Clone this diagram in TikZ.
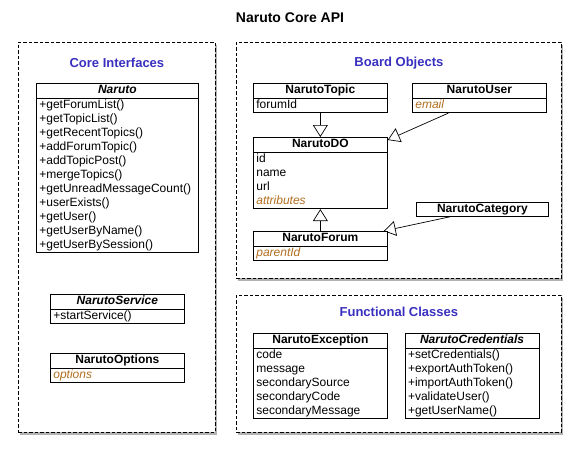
\documentclass[tikz,border=0pt]{standalone}
\usepackage{fontspec}
\setmainfont{Liberation Sans}
\usetikzlibrary{positioning,shapes.multipart,arrows.meta,shadows}
\definecolor{headblue}{RGB}{58,48,192}
\definecolor{attrbrown}{RGB}{178,110,30}
\newcommand{\attr}[1]{{\color{attrbrown}\itshape #1}}
\newcommand{\umlhead}[1]{\noindent\makebox[\hsize]{\strut\bfseries #1}}

\begin{document}
\begin{tikzpicture}[x=1pt, y=-1pt,
    panel/.style={draw, dash pattern=on 3.5pt off 2pt, line width=0.8pt, fill=white,
      inner sep=0pt, anchor=north west,
      drop shadow={opacity=0.6, fill=gray, shadow xshift=1.5pt, shadow yshift=-2.5pt}},
    paneltitle/.style={font=\fontsize{13}{15}\selectfont\bfseries, text=headblue},
    umlclass/.style={draw, line width=0.7pt, fill=white, rectangle split,
      rectangle split parts=2, text width=128pt, inner xsep=3pt, inner ysep=0pt,
      align=left, anchor=north west, font=\fontsize{12}{14}\selectfont},
    umlname/.style={draw, line width=0.7pt, fill=white, text width=128pt,
      inner xsep=3pt, inner ysep=0pt, align=center, anchor=north west,
      font=\fontsize{12}{14}\selectfont\bfseries},
    inherit/.style={draw, line width=0.7pt, -{Triangle[open, length=12pt, width=15pt]}}
  ]
  \useasboundingbox (0,0) rectangle (580,456);

  % Title
  \node[font=\fontsize{14}{16}\selectfont\bfseries] (title) at (290,18) {Naruto Core API};

  % Panels
  \node[panel, minimum width=197pt, minimum height=390pt] (core) at (18,42) {};
  \node[panel, minimum width=325pt, minimum height=236pt] (board) at (236,42) {};
  \node[panel, minimum width=325pt, minimum height=137pt] (func) at (236,295) {};
  \node[paneltitle] (coretitle) at ([yshift=-21pt]core.north) {Core Interfaces};
  \node[paneltitle] (boardtitle) at ([yshift=-21pt]board.north) {Board Objects};
  \node[paneltitle] (functitle) at ([yshift=-17pt]func.north) {Functional Classes};

  % Core interfaces
  \node[umlclass, text width=156pt] (naruto) at (36,83)
    {\umlhead{\textit{Naruto}}
     \nodepart{two}\strut+getForumList()\\\strut+getTopicList()\\\strut+getRecentTopics()\\
     \strut+addForumTopic()\\\strut+addTopicPost()\\\strut+mergeTopics()\\
     \strut+getUnreadMessageCount()\\\strut+userExists()\\\strut+getUser()\\
     \strut+getUserByName()\\\strut+getUserBySession()};
  \node[umlclass] (service) at (50,294)
    {\umlhead{\textit{NarutoService}}\nodepart{two}\strut+startService()};
  \node[umlclass] (options) at (50,353)
    {\umlhead{NarutoOptions}\nodepart{two}\strut\attr{options}};

  % Board objects
  \node[umlclass] (topic) at (253,83)
    {\umlhead{NarutoTopic}\nodepart{two}\strut forumId};
  \node[umlclass] (user) at (412,83)
    {\umlhead{NarutoUser}\nodepart{two}\strut\attr{email}};
  \node[umlclass] (do) at (253,137)
    {\umlhead{NarutoDO}
     \nodepart{two}\strut id\\\strut name\\\strut url\\\strut\attr{attributes}};
  \node[umlname, text width=126pt] (category) at (416,202) {\strut NarutoCategory};
  \node[umlclass] (forum) at (253,231)
    {\umlhead{NarutoForum}\nodepart{two}\strut\attr{parentId}};

  % Functional classes
  \node[umlclass] (exception) at (253,333)
    {\umlhead{NarutoException}
     \nodepart{two}\strut code\\\strut message\\\strut secondarySource\\
     \strut secondaryCode\\\strut secondaryMessage};
  \node[umlclass, right=17pt of exception.north east, anchor=north west] (credentials)
    {\umlhead{\textit{NarutoCredentials}}
     \nodepart{two}\strut+setCredentials()\\\strut+exportAuthToken()\\
     \strut+importAuthToken()\\\strut+validateUser()\\\strut+getUserName()};

  % Generalisations
  \draw[inherit] (topic) -- (do);
  \draw[inherit] ([xshift=-31pt]user.south) -- ([yshift=-3pt]do.north east);
  \draw[inherit] (forum) -- (do);
  \draw[inherit] ([xshift=-32pt]category.south) -- ([xshift=-4pt]forum.north east);
\end{tikzpicture}
\end{document}
